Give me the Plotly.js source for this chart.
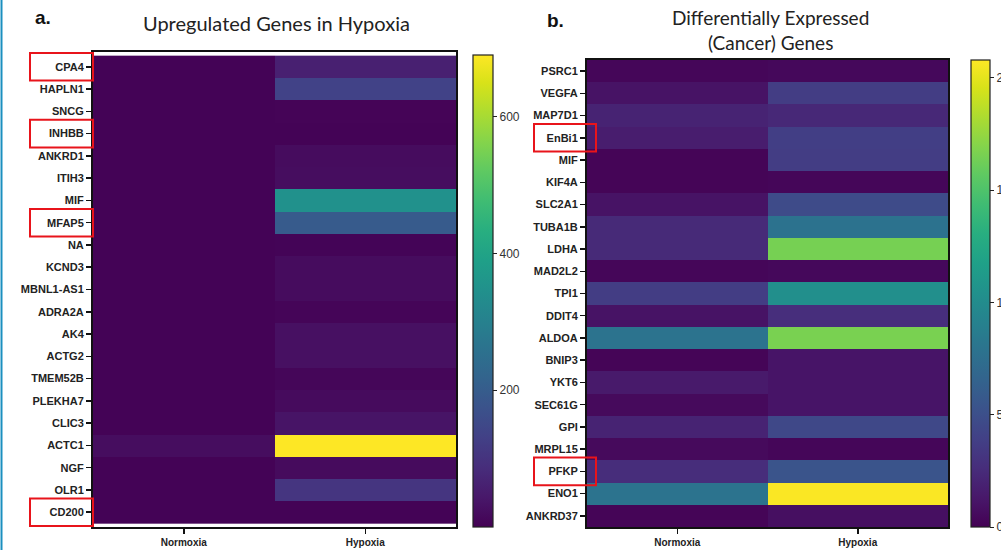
<!DOCTYPE html>
<html><head><meta charset="utf-8">
<script src="https://cdn.plot.ly/plotly-3.0.1.min.js"></script>
<style>html,body{margin:0;padding:0;background:#fff;overflow:hidden;width:1001px;height:550px}#chart{width:1060px;height:550px}</style>
</head><body><div id="chart"></div>
<script>
// ---- Data ----
const conditions = ['Normoxia', 'Hypoxia'];

const genesA = ['CPA4','HAPLN1','SNCG','INHBB','ANKRD1','ITIH3','MIF','MFAP5','NA','KCND3',
  'MBNL1-AS1','ADRA2A','AK4','ACTG2','TMEM52B','PLEKHA7','CLIC3','ACTC1','NGF','OLR1','CD200'];
const normoxiaA = [4,4,3,3,4,3,4,4,3,4, 4,3,4,4,3,4,4,22,4,4,3];
const hypoxiaA  = [60,135,6,3,20,22,345,195,5,20, 20,8,28,28,10,18,35,690,18,105,3];

const genesB = ['PSRC1','VEGFA','MAP7D1','EnBi1','MIF','KIF4A','SLC2A1','TUBA1B','LDHA','MAD2L2',
  'TPI1','DDIT4','ALDOA','BNIP3','YKT6','SEC61G','GPI','MRPL15','PFKP','ENO1','ANKRD37'];
const normoxiaB = [0.3,1.0,2.0,1.6,0.2,0.2,1.0,2.4,2.4,0.3, 3.7,1.0,7.9,0.2,1.4,0.5,2.0,0.5,2.6,7.9,0.2];
const hypoxiaB  = [0.4,3.7,2.3,3.8,3.7,0.3,4.7,7.8,16.5,0.4, 10.3,2.7,16.6,1.1,1.1,1.1,4.5,0.3,5.4,20.7,0.8];

const colorTicksA = [200, 400, 600];
const colorTicksB = [0, 5, 10, 15, 20];
const boxedA = ['CPA4','INHBB','MFAP5','CD200'];
const boxedB = ['EnBi1','PFKP'];

// ---- Build ----
const W = 1060, H = 550;
function zMatrix(n, h){ return n.map((v,i)=>[v, h[i]]); }

const tickFont = {family:'Liberation Sans, Arial, sans-serif', size:11, color:'#222', weight:'bold'};
const xTickFont = {family:'Liberation Sans, Arial, sans-serif', size:10, color:'#222', weight:'bold'};
const cbFont = {family:'Liberation Sans, Arial, sans-serif', size:12, color:'#333'};

const traceA = {
  type:'heatmap', x:conditions, y:genesA, z:zMatrix(normoxiaA, hypoxiaA),
  colorscale:'Viridis', zmin:0, zmax:690, xaxis:'x', yaxis:'y',
  colorbar:{x:473/W, xanchor:'left', y:23/H, yanchor:'bottom', len:472, lenmode:'pixels',
    thickness:20, thicknessmode:'pixels', outlinecolor:'#222', outlinewidth:1.2,
    tickvals:colorTicksA, ticks:'outside', ticklen:4, tickcolor:'#222', tickfont:cbFont, xpad:0, ypad:0}
};
const traceB = {
  type:'heatmap', x:conditions, y:genesB, z:zMatrix(normoxiaB, hypoxiaB),
  colorscale:'Viridis', zmin:0, zmax:20.8, xaxis:'x2', yaxis:'y2',
  colorbar:{x:971/W, xanchor:'left', y:23/H, yanchor:'bottom', len:467, lenmode:'pixels',
    thickness:19, thicknessmode:'pixels', outlinecolor:'#222', outlinewidth:1.2,
    tickvals:colorTicksB, ticks:'outside', ticklen:4, tickcolor:'#222', tickfont:cbFont, xpad:0, ypad:0}
};

const axisCommon = {showline:true, linecolor:'#111', linewidth:2, mirror:true, ticks:'outside',
  ticklen:5, tickwidth:1.5, tickcolor:'#111', tickfont:tickFont, showgrid:false, zeroline:false,
  layer:'above traces'};

function boxes(list, genes, ya, x0, x1){
  return list.map(g=>{
    const i = genes.indexOf(g);
    return {type:'rect', xref:'paper', yref:ya, x0:x0, x1:x1, y0:i-0.62, y1:i+0.62,
      line:{color:'#e8141b', width:2}, fillcolor:'rgba(0,0,0,0)'};
  });
}

const layout = {
  width:W, height:H, margin:{l:0,r:0,t:0,b:0}, paper_bgcolor:'#fff', plot_bgcolor:'#fff',
  showlegend:false,
  xaxis:Object.assign({}, axisCommon, {domain:[93/W, 456/W], anchor:'y', tickfont:xTickFont}),
  yaxis:Object.assign({}, axisCommon, {domain:[23/H, 498/H], anchor:'x', autorange:'reversed'}),
  xaxis2:Object.assign({}, axisCommon, {domain:[587/W, 948/W], anchor:'y2', tickfont:xTickFont}),
  yaxis2:Object.assign({}, axisCommon, {domain:[23/H, 490/H], anchor:'x2', autorange:'reversed'}),
  annotations:[
    {text:'<b>a.</b>', xref:'paper', yref:'paper', x:33/W, y:1-18/H, showarrow:false,
     font:{family:'Liberation Sans, Arial, sans-serif', size:19, color:'#111'}, xanchor:'left', yanchor:'middle'},
    {text:'Upregulated Genes in Hypoxia', xref:'paper', yref:'paper', x:276/W, y:1-23/H, showarrow:false,
     font:{family:'Lato, Open Sans, sans-serif', size:20, color:'#222'}, xanchor:'center', yanchor:'middle'},
    {text:'<b>b.</b>', xref:'paper', yref:'paper', x:545/W, y:1-20/H, showarrow:false,
     font:{family:'Liberation Sans, Arial, sans-serif', size:19, color:'#111'}, xanchor:'left', yanchor:'middle'},
    {text:'Differentially Expressed<br>(Cancer) Genes', xref:'paper', yref:'paper', x:770/W, y:1-30/H, showarrow:false,
     font:{family:'Lato, Open Sans, sans-serif', size:19, color:'#222'}, xanchor:'center', yanchor:'middle'}
  ],
  shapes:[].concat(
    boxes(boxedA, genesA, 'y', 30/W, 93/W),
    boxes(boxedB, genesB, 'y2', 534/W, 596/W),
    [{type:'line', xref:'paper', yref:'paper', x0:1.5/W, x1:1.5/W, y0:0, y1:1, line:{color:'#1b8fbf', width:2}}]
  )
};

Plotly.newPlot('chart', [traceA, traceB], layout, {displayModeBar:false, staticPlot:true});
</script></body></html>
